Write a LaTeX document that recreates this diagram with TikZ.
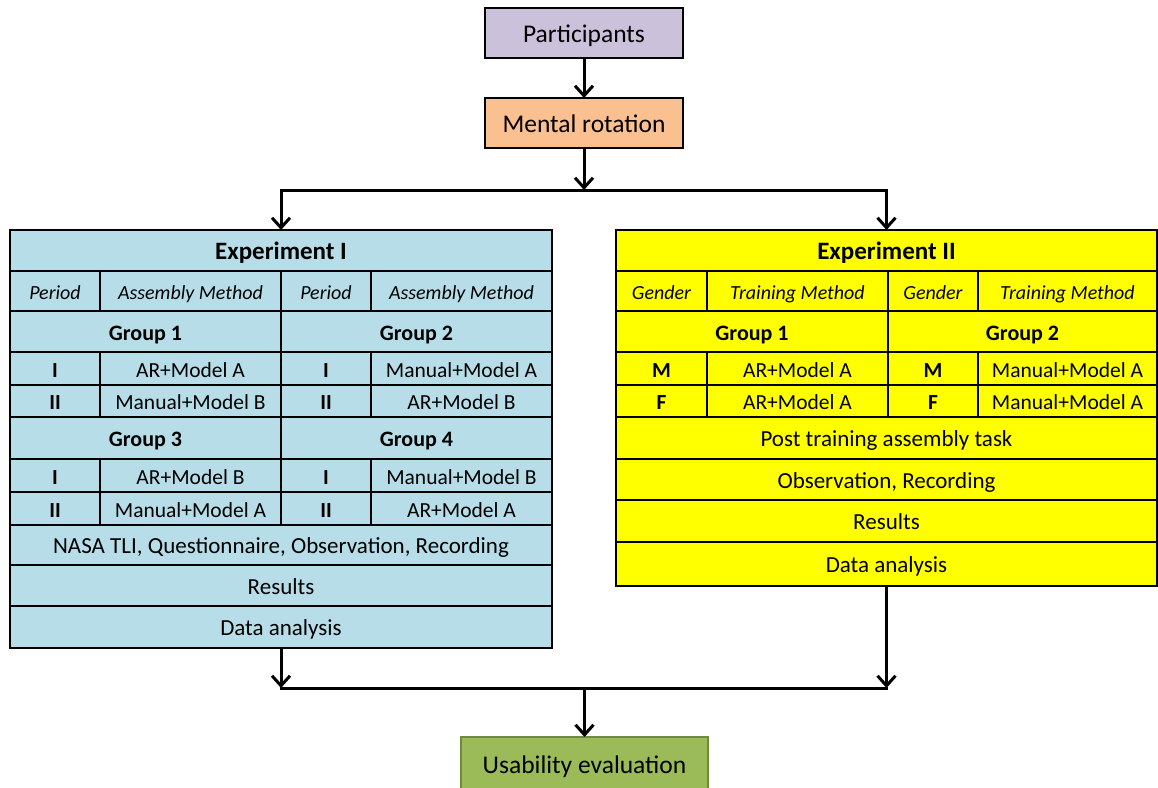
\documentclass[tikz,border=0pt]{standalone}
\usepackage{fontspec}
\setmainfont{Carlito}
\usetikzlibrary{arrows.meta}

\definecolor{partfill}{HTML}{CCC1DA}
\definecolor{mentfill}{HTML}{FAC090}
\definecolor{expIfill}{HTML}{B7DEE8}
\definecolor{expIIfill}{HTML}{FFFF00}
\definecolor{usefill}{HTML}{9BBB59}
\definecolor{usedraw}{HTML}{71893F}

% one table cell: style, name, x1, y1, x2, y2, text (pixel-like units, y downwards)
\newcommand\cellbox[7]{%
  \node[#1, minimum width={(#5-#3)*1pt}, minimum height={(#6-#4)*1pt}]
    (#2) at ({(#3+#5)/2},{(#4+#6)/2}) {#7};}

\begin{document}
\begin{tikzpicture}[x=1pt, y=-1pt,
  box/.style={draw=black, line width=2.2pt, inner sep=0pt, outer sep=0pt,
    text height=21pt, text depth=1.4pt,
    font=\fontsize{25.5}{30}\selectfont},
  cell/.style={draw=black, line width=2.2pt, inner sep=0pt, outer sep=0pt,
    text height=19pt, text depth=1.2pt,
    font=\fontsize{21.5}{25}\selectfont},
  cellI/.style={cell, fill=expIfill},
  cellII/.style={cell, fill=expIIfill},
  wideI/.style={cellI, font=\fontsize{23}{27}\selectfont},
  wideII/.style={cellII, font=\fontsize{23}{27}\selectfont},
  titleI/.style={cellI, font=\fontsize{25}{29}\selectfont\bfseries},
  titleII/.style={cellII, font=\fontsize{25}{29}\selectfont\bfseries},
  headI/.style={cellI, font=\fontsize{20}{24}\selectfont\itshape},
  headII/.style={cellII, font=\fontsize{20}{24}\selectfont\itshape},
  grpI/.style={cellI, font=\fontsize{22}{26}\selectfont\bfseries},
  grpII/.style={cellII, font=\fontsize{22}{26}\selectfont\bfseries},
  bI/.style={cellI, font=\fontsize{21.5}{25}\selectfont\bfseries},
  bII/.style={cellII, font=\fontsize{21.5}{25}\selectfont\bfseries},
  conn/.style={line width=3pt, line cap=rect},
  flow/.style={conn, -{Straight Barb[length=10pt, width=18pt, line width=3pt]}}
]
\useasboundingbox (0,0) rectangle (1158,787);

% top boxes
\node[box, fill=partfill, minimum width=198pt, minimum height=50pt] (part) at (584,33) {Participants};
\node[box, fill=mentfill, minimum width=198pt, minimum height=50pt] (ment) at (584,123) {Mental rotation};

% Experiment I
\cellbox{titleI}{eIt}{10}{230}{552}{271}{Experiment I}
\cellbox{headI}{eIh1}{10}{271}{100}{311}{Period}
\cellbox{headI}{eIh2}{100}{271}{281}{311}{Assembly Method}
\cellbox{headI}{eIh3}{281}{271}{371}{311}{Period}
\cellbox{headI}{eIh4}{371}{271}{552}{311}{Assembly Method}
\cellbox{grpI}{eIg1}{10}{311}{281}{352}{Group 1}
\cellbox{grpI}{eIg2}{281}{311}{552}{352}{Group 2}
\cellbox{bI}{eIa1}{10}{352}{100}{385}{I}
\cellbox{cellI}{eIa2}{100}{352}{281}{385}{AR+Model A}
\cellbox{bI}{eIa3}{281}{352}{371}{385}{I}
\cellbox{cellI}{eIa4}{371}{352}{552}{385}{Manual+Model A}
\cellbox{bI}{eIb1}{10}{385}{100}{417}{II}
\cellbox{cellI}{eIb2}{100}{385}{281}{417}{Manual+Model B}
\cellbox{bI}{eIb3}{281}{385}{371}{417}{II}
\cellbox{cellI}{eIb4}{371}{385}{552}{417}{AR+Model B}
\cellbox{grpI}{eIg3}{10}{417}{281}{459}{Group 3}
\cellbox{grpI}{eIg4}{281}{417}{552}{459}{Group 4}
\cellbox{bI}{eIc1}{10}{459}{100}{492}{I}
\cellbox{cellI}{eIc2}{100}{459}{281}{492}{AR+Model B}
\cellbox{bI}{eIc3}{281}{459}{371}{492}{I}
\cellbox{cellI}{eIc4}{371}{459}{552}{492}{Manual+Model B}
\cellbox{bI}{eId1}{10}{492}{100}{525}{II}
\cellbox{cellI}{eId2}{100}{492}{281}{525}{Manual+Model A}
\cellbox{bI}{eId3}{281}{492}{371}{525}{II}
\cellbox{cellI}{eId4}{371}{492}{552}{525}{AR+Model A}
\cellbox{wideI}{eInasa}{10}{525}{552}{565}{NASA TLI, Questionnaire, Observation, Recording}
\cellbox{wideI}{eIres}{10}{565}{552}{606}{Results}
\cellbox{wideI}{eIdata}{10}{606}{552}{648}{Data analysis}

% Experiment II
\cellbox{titleII}{eIIt}{616}{230}{1157}{271}{Experiment II}
\cellbox{headII}{eIIh1}{616}{271}{707}{311}{Gender}
\cellbox{headII}{eIIh2}{707}{271}{888}{311}{Training Method}
\cellbox{headII}{eIIh3}{888}{271}{978}{311}{Gender}
\cellbox{headII}{eIIh4}{978}{271}{1157}{311}{Training Method}
\cellbox{grpII}{eIIg1}{616}{311}{888}{352}{Group 1}
\cellbox{grpII}{eIIg2}{888}{311}{1157}{352}{Group 2}
\cellbox{bII}{eIIa1}{616}{352}{707}{385}{M}
\cellbox{cellII}{eIIa2}{707}{352}{888}{385}{AR+Model A}
\cellbox{bII}{eIIa3}{888}{352}{978}{385}{M}
\cellbox{cellII}{eIIa4}{978}{352}{1157}{385}{Manual+Model A}
\cellbox{bII}{eIIb1}{616}{385}{707}{417}{F}
\cellbox{cellII}{eIIb2}{707}{385}{888}{417}{AR+Model A}
\cellbox{bII}{eIIb3}{888}{385}{978}{417}{F}
\cellbox{cellII}{eIIb4}{978}{385}{1157}{417}{Manual+Model A}
\cellbox{wideII}{eIIpost}{616}{417}{1157}{459}{Post training assembly task}
\cellbox{wideII}{eIIobs}{616}{459}{1157}{500}{Observation, Recording}
\cellbox{wideII}{eIIres}{616}{500}{1157}{542}{Results}
\cellbox{wideII}{eIIdata}{616}{542}{1157}{586}{Data analysis}

% final box
\node[box, draw=usedraw, fill=usefill, minimum width=247pt, minimum height=54pt] (use) at (584.5,764) {Usability evaluation};

% connectors
\coordinate (splitC) at (584,190);
\coordinate (splitL) at (eIt.north |- splitC);
\coordinate (splitR) at (eIIt.north |- splitC);
\coordinate (joinL) at (eIdata.south |- 0,688);
\coordinate (joinR) at (eIIdata.south |- 0,688);
\coordinate (joinC) at (use.north |- 0,688);

\draw[flow] (part) -- (ment);
\draw[flow] (ment) -- (splitC);
\draw[conn] (splitL) -- (splitR);
\draw[flow] (splitL) -- (eIt.north);
\draw[flow] (splitR) -- (eIIt.north);
\draw[flow] (eIdata.south) -- (joinL);
\draw[flow] (eIIdata.south) -- (joinR);
\draw[conn] (joinL) -- (joinR);
\draw[flow] (joinC) -- (use.north);
\end{tikzpicture}
\end{document}
